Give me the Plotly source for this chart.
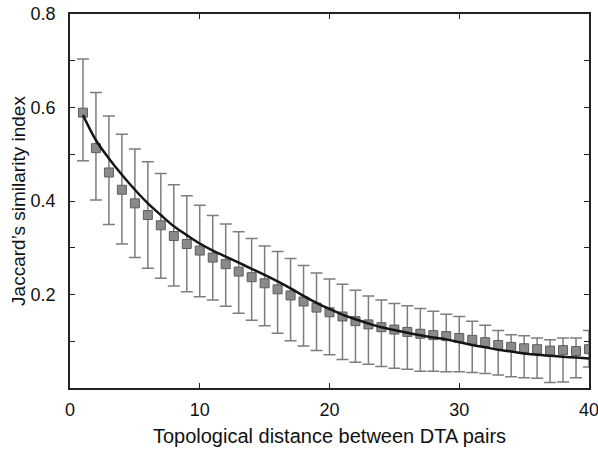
import plotly.graph_objects as go

distance = list(range(1, 41))
mean_jaccard = [0.589, 0.513, 0.461, 0.424, 0.395, 0.370, 0.348, 0.325, 0.308, 0.294,
                0.279, 0.265, 0.249, 0.237, 0.224, 0.211, 0.198, 0.185, 0.172, 0.162,
                0.153, 0.143, 0.136, 0.130, 0.125, 0.120, 0.116, 0.113, 0.111, 0.107,
                0.103, 0.098, 0.092, 0.088, 0.085, 0.083, 0.080, 0.081, 0.079, 0.083]
upper_bound = [0.704, 0.632, 0.582, 0.543, 0.511, 0.484, 0.459, 0.435, 0.411, 0.391,
               0.369, 0.351, 0.334, 0.320, 0.304, 0.292, 0.277, 0.262, 0.246, 0.233,
               0.222, 0.209, 0.197, 0.188, 0.181, 0.176, 0.170, 0.164, 0.158, 0.153,
               0.143, 0.134, 0.123, 0.114, 0.112, 0.107, 0.103, 0.107, 0.107, 0.123]
lower_bound = [0.486, 0.402, 0.350, 0.308, 0.279, 0.256, 0.235, 0.218, 0.206, 0.195,
               0.188, 0.175, 0.160, 0.145, 0.133, 0.117, 0.101, 0.090, 0.080, 0.071,
               0.061, 0.055, 0.051, 0.046, 0.042, 0.040, 0.036, 0.036, 0.035, 0.035,
               0.033, 0.031, 0.028, 0.024, 0.022, 0.021, 0.012, 0.013, 0.022, 0.045]
fit_curve = [0.584, 0.530, 0.491, 0.456, 0.424, 0.395, 0.370, 0.346, 0.327, 0.309,
             0.294, 0.281, 0.268, 0.255, 0.242, 0.228, 0.213, 0.197, 0.182, 0.169,
             0.157, 0.147, 0.138, 0.130, 0.124, 0.118, 0.113, 0.108, 0.104, 0.098,
             0.092, 0.087, 0.082, 0.078, 0.074, 0.071, 0.069, 0.067, 0.065, 0.063]

y_tick_vals = [0.1, 0.2, 0.3, 0.4, 0.5, 0.6, 0.7, 0.8]
y_tick_text = ["", "0.2", "", "0.4", "", "0.6", "", "0.8"]
x_tick_vals = [0, 10, 20, 30, 40]

err_plus = [u - m for u, m in zip(upper_bound, mean_jaccard)]
err_minus = [m - l for m, l in zip(mean_jaccard, lower_bound)]

fig = go.Figure()
fig.add_trace(go.Scatter(
    x=distance, y=mean_jaccard, mode="markers",
    marker=dict(symbol="square", size=9, color="#8a8a8a",
                line=dict(color="#5e5e5e", width=1)),
    error_y=dict(type="data", symmetric=False, array=err_plus, arrayminus=err_minus,
                 color="#7d7d7d", thickness=1.5, width=6),
    showlegend=False,
))
fig.add_trace(go.Scatter(
    x=distance, y=fit_curve, mode="lines",
    line=dict(color="#151515", width=2.5, shape="spline", smoothing=1.0),
    showlegend=False,
))

font = dict(family="Liberation Sans, Arial, sans-serif", size=18, color="#111")
fig.update_layout(
    width=598, height=449,
    margin=dict(l=70, r=9, t=14, b=61, autoexpand=False),
    paper_bgcolor="white", plot_bgcolor="white",
    font=font,
    xaxis=dict(range=[0, 40], tickvals=x_tick_vals, ticks="inside", ticklen=5,
               tickwidth=1, tickcolor="#222", showline=True, linecolor="#222",
               linewidth=1.5, mirror="ticks", showgrid=False, zeroline=False,
               title=dict(text="Topological distance between DTA pairs",
                          font=dict(size=20), standoff=10),
               tickfont=dict(size=18), ticklabelstandoff=5,
               ticklabeloverflow="allow"),
    yaxis=dict(range=[0, 0.8], tickvals=y_tick_vals, ticktext=y_tick_text,
               ticks="inside", ticklen=5, tickwidth=1, tickcolor="#222",
               showline=True, linecolor="#222", linewidth=1.5, mirror="ticks",
               showgrid=False, zeroline=False,
               title=dict(text="Jaccard\u2019s similarity index",
                          font=dict(size=19), standoff=0),
               tickfont=dict(size=18), ticklabelstandoff=9,
               ticklabeloverflow="allow"),
)

fig.write_html("out.html", config={"displayModeBar": False},
               post_script="document.body.style.margin='0';")
